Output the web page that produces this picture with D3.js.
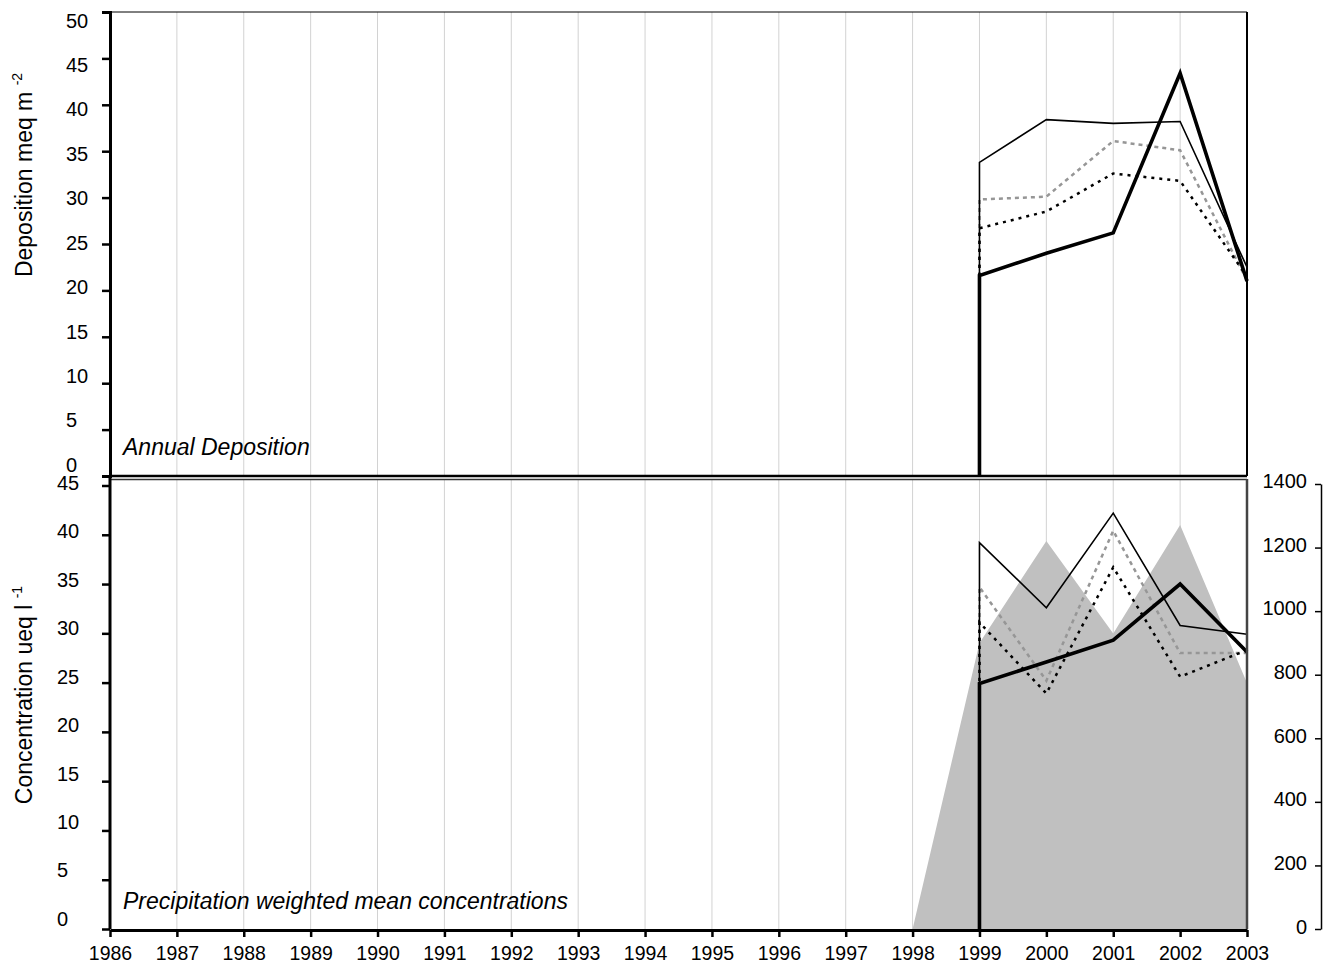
<!DOCTYPE html>
<html>
<head>
<meta charset="utf-8">
<script src="https://cdn.jsdelivr.net/npm/d3@7"></script>
<style>
  body { margin: 0; background: #fff; }
  svg { font-family: Arial, "Liberation Sans", sans-serif; }
</style>
</head>
<body>
<svg id="chart" width="1326" height="971"></svg>
<script>
// ---------------- data ----------------
const years = [1999, 2000, 2001, 2002, 2003];
const axisYears = d3.range(1986, 2004);

// annual deposition, meq m-2
const depSolid  = [33.8, 38.4, 38.0, 38.2, 22.5];
const depGray   = [29.8, 30.1, 36.1, 35.1, 21.1];
const depDotted = [26.7, 28.5, 32.6, 31.8, 21.5];
const depThick  = [21.6, 24.0, 26.2, 43.4, 21.0];

// precipitation weighted mean concentrations, ueq l-1
const concSolid  = [39.2, 32.6, 42.2, 30.8, 29.9];
const concGray   = [34.7, 25.2, 40.4, 28.0, 28.0];
const concDotted = [31.1, 23.9, 36.7, 25.6, 28.3];
const concThick  = [24.9, 27.1, 29.3, 35.0, 28.1];

// precipitation (right axis)
const precYears = [1998, 1999, 2000, 2001, 2002, 2003];
const precip    = [0, 900, 1221, 930, 1271, 774];

const depTicks  = d3.range(0, 51, 5);
const concTicks = d3.range(0, 46, 5);
const precTicks = d3.range(0, 1401, 200);

// ---------------- scales ----------------
const svg = d3.select("#chart");
const left = 110, right = 1247;
const FONT = "Arial, 'Liberation Sans', sans-serif";

const x = d3.scaleLinear().domain([1986, 2003]).range([left, right]);
const yTop = d3.scaleLinear().domain([0, 50]).range([476, 12]);
const yBot = d3.scaleLinear().domain([0, 45]).range([929, 485.5]);
const yPrec = d3.scaleLinear().domain([0, 1400]).range([929, 484]);
// the tick labels of the original sit slightly off their ticks
const yTopLab = d3.scaleLinear().domain([0, 50]).range([465, 20.7]);
const yBotLab = d3.scaleLinear().domain([0, 45]).range([919, 483]);
const yPrecLab = d3.scaleLinear().domain([0, 1400]).range([927, 481]);

// ---------------- grid lines ----------------
const grid = svg.append("g").attr("stroke", "#d2d2d2").attr("stroke-width", 1);
axisYears.slice(1, -1).forEach(yr => {
  grid.append("line").attr("x1", x(yr)).attr("x2", x(yr)).attr("y1", yTop(50)).attr("y2", yTop(0));
  grid.append("line").attr("x1", x(yr)).attr("x2", x(yr)).attr("y1", 479).attr("y2", yBot(0));
});

// ---------------- precipitation area ----------------
const area = d3.area()
  .x((d, i) => x(precYears[i]))
  .y0(yPrec(0))
  .y1(d => yPrec(d));
svg.append("path").datum(precip)
  .attr("d", area)
  .attr("fill", "#c0c0c0");

// ---------------- series ----------------
function drawSeries(values, yScale, style) {
  // each series rises from zero at its first year
  const pts = [[years[0], 0]].concat(values.map((v, i) => [years[i], v]));
  const line = d3.line().x(d => x(d[0])).y(d => yScale(d[1]));
  svg.append("path").datum(pts)
    .attr("d", line)
    .attr("fill", "none")
    .attr("stroke", style.color)
    .attr("stroke-width", style.width)
    .attr("stroke-dasharray", style.dash || null)
    .attr("stroke-linejoin", "miter");
}

const gray   = { color: "#969696", width: 2.5, dash: "4,4" };
const dotted = { color: "#000", width: 2.5, dash: "3,5" };
const solid  = { color: "#000", width: 1.6 };
const thick  = { color: "#000", width: 3.6 };

drawSeries(depGray, yTop, gray);
drawSeries(depDotted, yTop, dotted);
drawSeries(depSolid, yTop, solid);
drawSeries(depThick, yTop, thick);

drawSeries(concGray, yBot, gray);
drawSeries(concDotted, yBot, dotted);
drawSeries(concSolid, yBot, solid);
drawSeries(concThick, yBot, thick);

// ---------------- frames ----------------
svg.append("line").attr("x1", left).attr("x2", right).attr("y1", 12).attr("y2", 12)
  .attr("stroke", "#000").attr("stroke-width", 1);
svg.append("line").attr("x1", right).attr("x2", right).attr("y1", 12).attr("y2", 476)
  .attr("stroke", "#000").attr("stroke-width", 2);
svg.append("line").attr("x1", left).attr("x2", right).attr("y1", 476).attr("y2", 476)
  .attr("stroke", "#000").attr("stroke-width", 2.5);
svg.append("line").attr("x1", left).attr("x2", right).attr("y1", 479.5).attr("y2", 479.5)
  .attr("stroke", "#333").attr("stroke-width", 1.5);
svg.append("line").attr("x1", right).attr("x2", right).attr("y1", 479).attr("y2", 929)
  .attr("stroke", "#444").attr("stroke-width", 2.5);

// ---------------- axes ----------------
const tickFont = 20;

// left axis, top panel
const gTop = svg.append("g").attr("transform", `translate(${left},0)`)
  .call(d3.axisLeft(yTop).tickValues(depTicks).tickSize(8).tickFormat(""));
gTop.select(".domain").attr("stroke-width", 3);
gTop.selectAll(".tick line").attr("stroke-width", 2.5);
svg.append("g").attr("transform", "translate(66,0)")
  .call(d3.axisLeft(yTopLab).tickValues(depTicks).tickSize(0).tickPadding(0))
  .call(g => g.select(".domain").remove())
  .selectAll("text").attr("font-size", tickFont).attr("font-family", FONT).attr("fill", "#000")
  .attr("text-anchor", "start").attr("x", 0);

// left axis, bottom panel
const gBot = svg.append("g").attr("transform", `translate(${left},0)`)
  .call(d3.axisLeft(yBot).tickValues(concTicks).tickSize(8).tickFormat(""));
gBot.select(".domain").attr("stroke-width", 3).attr("d", `M0,476V${yBot(0)}`);
gBot.selectAll(".tick line").attr("stroke-width", 2.5);
svg.append("g").attr("transform", "translate(57,0)")
  .call(d3.axisLeft(yBotLab).tickValues(concTicks).tickSize(0).tickPadding(0))
  .call(g => g.select(".domain").remove())
  .selectAll("text").attr("font-size", tickFont).attr("font-family", FONT).attr("fill", "#000")
  .attr("text-anchor", "start").attr("x", 0);

// right axis (precipitation)
const gPrec = svg.append("g").attr("transform", "translate(1321,0)")
  .call(d3.axisLeft(yPrec).tickValues(precTicks).tickSize(6).tickSizeOuter(0).tickFormat(""));
gPrec.select(".domain").attr("stroke-width", 1.5);
gPrec.selectAll(".tick line").attr("stroke-width", 1.5);
svg.append("g").attr("transform", "translate(1307,0)")
  .call(d3.axisLeft(yPrecLab).tickValues(precTicks).tickSize(0).tickPadding(0).tickFormat(d3.format("d")))
  .call(g => g.select(".domain").remove())
  .selectAll("text").attr("font-size", tickFont).attr("font-family", FONT).attr("fill", "#000");

// bottom x axis
const gX = svg.append("g").attr("transform", `translate(0,${yBot(0) + 1})`)
  .call(d3.axisBottom(x).tickValues(axisYears).tickSize(7).tickSizeOuter(0).tickPadding(9).tickFormat(d3.format("d")));
gX.select(".domain").attr("stroke-width", 3);
gX.selectAll(".tick line").attr("stroke-width", 2.5);
gX.selectAll("text").attr("font-size", 19.5).attr("font-family", FONT).attr("fill", "#000");

// ---------------- titles ----------------
function axisTitle(cx, cy, main, sup) {
  const t = svg.append("text")
    .attr("transform", `translate(${cx},${cy}) rotate(-90)`)
    .attr("text-anchor", "middle")
    .attr("font-size", 23);
  t.append("tspan").text(main + " ");
  t.append("tspan").text(sup).attr("font-size", 14).attr("dy", -10);
}
axisTitle(32, 175, "Deposition meq m", "-2");
axisTitle(32, 695, "Concentration ueq l", "-1");

svg.append("text").attr("x", 123).attr("y", 455)
  .attr("font-size", 23).attr("font-style", "italic")
  .text("Annual Deposition");
svg.append("text").attr("x", 123).attr("y", 909)
  .attr("font-size", 23).attr("font-style", "italic")
  .text("Precipitation weighted mean concentrations");
</script>
</body>
</html>
